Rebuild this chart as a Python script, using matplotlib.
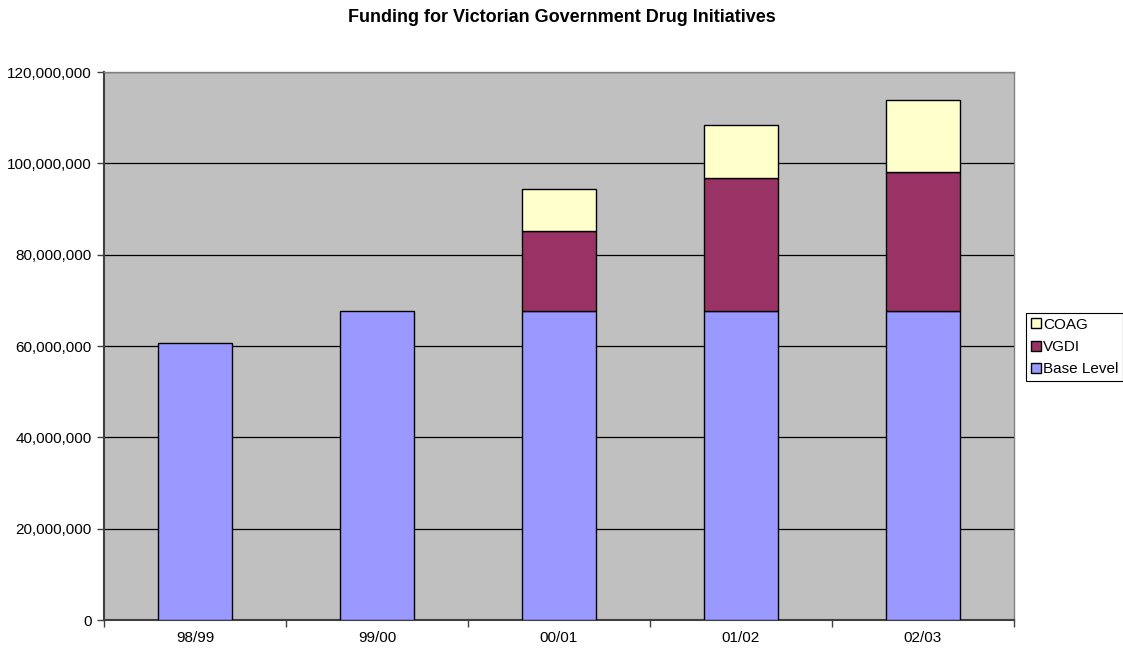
import numpy as np
import matplotlib.pyplot as plt
from matplotlib.ticker import FuncFormatter

plt.rcParams['font.family'] = ['Liberation Sans', 'DejaVu Sans']
plt.rcParams['font.size'] = 11

# data
years = ['98/99', '99/00', '00/01', '01/02', '02/03']
base_level = [60600000, 67700000, 67700000, 67700000, 67700000]
vgdi = [0, 0, 17500000, 29100000, 30300000]
coag = [0, 0, 9200000, 11600000, 15900000]

col_base = '#9999FF'
col_vgdi = '#993366'
col_coag = '#FFFFCC'

fig = plt.figure(figsize=(11.23, 6.49), dpi=100)
ax = fig.add_axes([104 / 1123, 29 / 649, 910 / 1123, 548 / 649])
ax.set_facecolor('#C0C0C0')

x = np.arange(len(years))
w = 0.405
base_arr = np.array(base_level)
vgdi_arr = np.array(vgdi)
coag_arr = np.array(coag)

ax.bar(x, base_arr, w, color=col_base, edgecolor='black', linewidth=1, label='Base Level', zorder=3)
m = vgdi_arr > 0
ax.bar(x[m], vgdi_arr[m], w, bottom=base_arr[m], color=col_vgdi, edgecolor='black', linewidth=1,
       label='VGDI', zorder=3)
m = coag_arr > 0
ax.bar(x[m], coag_arr[m], w, bottom=(base_arr + vgdi_arr)[m], color=col_coag, edgecolor='black',
       linewidth=1, label='COAG', zorder=3)

ax.set_xlim(-0.5, len(years) - 0.5)
ax.set_ylim(0, 120000000)
ax.set_yticks(np.arange(0, 120000001, 20000000))
ax.yaxis.set_major_formatter(FuncFormatter(lambda v, p: '{:,.0f}'.format(v)))
ax.yaxis.grid(True, color='black', linewidth=0.9, zorder=1)
ax.set_axisbelow(True)

ax.set_xticks(x)
ax.set_xticklabels(years)
ax.set_xticks(np.arange(-0.5, len(years), 1.0), minor=True)
ax.tick_params(axis='x', which='major', length=0, pad=8)
ax.tick_params(axis='x', which='minor', length=5, width=1, color='#404040')
ax.tick_params(axis='y', length=5, width=1, color='#404040', pad=4)

for s in ['left', 'bottom']:
    ax.spines[s].set_color('#404040')
    ax.spines[s].set_linewidth(1.5)
for s in ['top', 'right']:
    ax.spines[s].set_color('#808080')
    ax.spines[s].set_linewidth(1)

fig.text(0.5, 1 - 18 / 649, 'Funding for Victorian Government Drug Initiatives',
         ha='center', va='center', fontsize=13, fontweight='bold')

h, l = ax.get_legend_handles_labels()
leg = fig.legend(h[::-1], l[::-1], loc='upper left', bbox_to_anchor=(1026 / 1123, 1 - 313 / 649),
                 frameon=True, fancybox=False, edgecolor='black', framealpha=1,
                 handlelength=0.65, handleheight=0.65, handletextpad=0.15,
                 labelspacing=0.55, borderpad=0.3, borderaxespad=0)
leg.get_frame().set_linewidth(0.8)

plt.savefig('out.png', dpi=100)
